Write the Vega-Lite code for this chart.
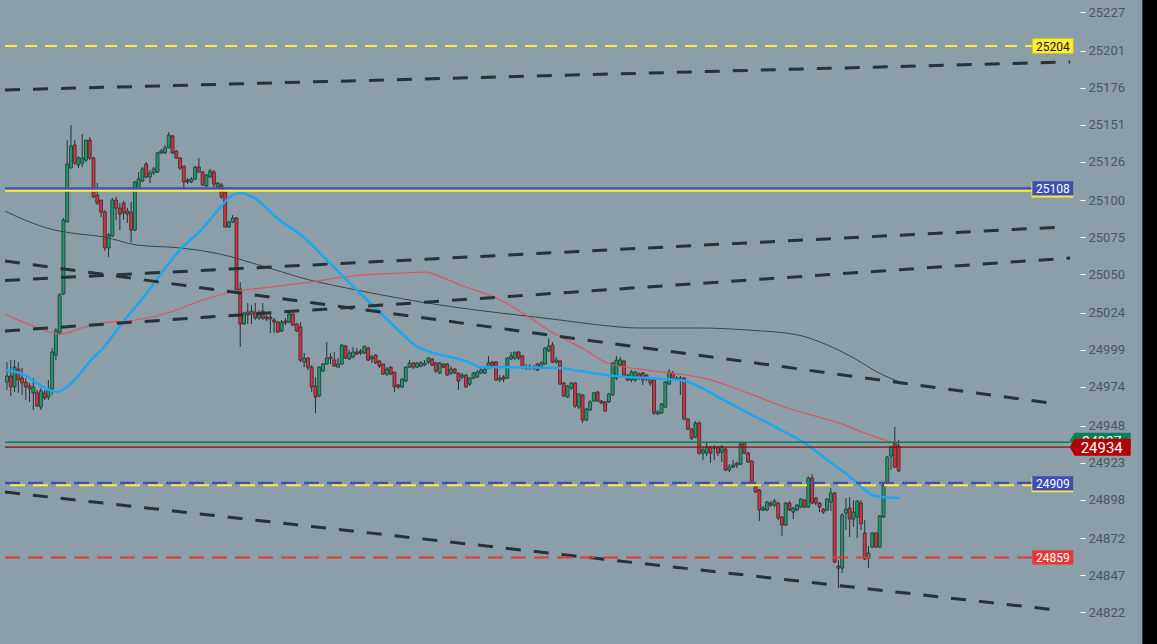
{
"$schema": "https://vega.github.io/schema/vega-lite/v6.json",
"width": 1080, "height": 644,
"autosize": {"type": "none"},
"padding": {"left": 0, "top": 0, "right": 77, "bottom": 0},
"background": "#8c9ea8",
"config": {"view": {"stroke": null}},
"resolve": {"axis": {"x": "independent", "y": "independent"}},
"datasets": {
"candles": [
{"t":0,"o":24977.3,"h":24990.8,"l":24972.0,"c":24981.4},
{"t":1,"o":24981.4,"h":24992.2,"l":24967.9,"c":24974.0},
{"t":2,"o":24974.0,"h":24992.2,"l":24970.6,"c":24987.4},
{"t":3,"o":24986.1,"h":24990.8,"l":24970.0,"c":24978.7},
{"t":4,"o":24980.0,"h":24986.8,"l":24968.6,"c":24976.7},
{"t":5,"o":24977.3,"h":24980.0,"l":24965.2,"c":24974.0},
{"t":6,"o":24974.7,"h":24976.7,"l":24963.9,"c":24972.7},
{"t":7,"o":24970.0,"h":24980.0,"l":24958.5,"c":24974.0},
{"t":8,"o":24970.0,"h":24972.0,"l":24960.5,"c":24961.2},
{"t":9,"o":24960.5,"h":24973.3,"l":24958.5,"c":24971.3},
{"t":10,"o":24970.0,"h":24972.0,"l":24965.2,"c":24966.6},
{"t":11,"o":24967.2,"h":24978.7,"l":24965.2,"c":24972.7},
{"t":12,"o":24972.7,"h":25000.3,"l":24968.6,"c":24997.6},
{"t":13,"o":24995.5,"h":25013.8,"l":24992.2,"c":25012.4},
{"t":14,"o":25010.4,"h":25037.4,"l":25009.1,"c":25036.1},
{"t":15,"o":25036.7,"h":25088.0,"l":25036.1,"c":25086.7},
{"t":16,"o":25085.3,"h":25140.6,"l":25085.3,"c":25124.4},
{"t":17,"o":25121.7,"h":25150.7,"l":25121.7,"c":25136.6},
{"t":18,"o":25137.3,"h":25140.6,"l":25123.8,"c":25125.1},
{"t":19,"o":25123.8,"h":25129.8,"l":25121.7,"c":25128.5},
{"t":20,"o":25125.1,"h":25144.7,"l":25122.4,"c":25128.5},
{"t":21,"o":25127.1,"h":25140.6,"l":25125.8,"c":25140.6},
{"t":22,"o":25140.6,"h":25142.7,"l":25127.1,"c":25128.5},
{"t":23,"o":25128.5,"h":25129.2,"l":25101.5,"c":25102.2},
{"t":24,"o":25103.5,"h":25111.6,"l":25096.8,"c":25098.1},
{"t":25,"o":25100.1,"h":25100.1,"l":25088.7,"c":25092.0},
{"t":26,"o":25092.0,"h":25093.4,"l":25065.7,"c":25067.8},
{"t":27,"o":25067.8,"h":25077.9,"l":25061.7,"c":25076.5},
{"t":28,"o":25075.9,"h":25101.5,"l":25075.2,"c":25100.1},
{"t":29,"o":25100.1,"h":25102.2,"l":25086.7,"c":25094.7},
{"t":30,"o":25094.7,"h":25098.1,"l":25079.9,"c":25090.7},
{"t":31,"o":25098.1,"h":25099.5,"l":25086.7,"c":25091.4},
{"t":32,"o":25092.7,"h":25094.7,"l":25084.6,"c":25090.7},
{"t":33,"o":25092.0,"h":25098.8,"l":25071.8,"c":25079.9},
{"t":34,"o":25079.9,"h":25113.0,"l":25079.2,"c":25112.3},
{"t":35,"o":25108.2,"h":25119.0,"l":25106.9,"c":25114.3},
{"t":36,"o":25113.0,"h":25122.4,"l":25112.3,"c":25121.1},
{"t":37,"o":25124.4,"h":25125.8,"l":25115.0,"c":25115.7},
{"t":38,"o":25115.7,"h":25120.4,"l":25111.6,"c":25118.4},
{"t":39,"o":25118.4,"h":25122.4,"l":25117.0,"c":25121.1},
{"t":40,"o":25119.0,"h":25132.5,"l":25118.4,"c":25131.9},
{"t":41,"o":25131.9,"h":25134.6,"l":25131.2,"c":25133.2},
{"t":42,"o":25131.9,"h":25137.3,"l":25131.2,"c":25135.3},
{"t":43,"o":25135.3,"h":25146.0,"l":25135.3,"c":25144.0},
{"t":44,"o":25143.3,"h":25144.0,"l":25131.2,"c":25131.9},
{"t":45,"o":25133.2,"h":25133.9,"l":25127.8,"c":25128.5},
{"t":46,"o":25128.5,"h":25129.2,"l":25120.4,"c":25121.7},
{"t":47,"o":25123.1,"h":25123.1,"l":25108.2,"c":25112.3},
{"t":48,"o":25113.6,"h":25115.0,"l":25110.9,"c":25112.3},
{"t":49,"o":25112.3,"h":25115.7,"l":25111.6,"c":25114.3},
{"t":50,"o":25114.3,"h":25123.1,"l":25113.6,"c":25122.4},
{"t":51,"o":25122.4,"h":25128.5,"l":25119.0,"c":25119.0},
{"t":52,"o":25119.0,"h":25119.7,"l":25109.6,"c":25110.3},
{"t":53,"o":25109.6,"h":25117.7,"l":25108.9,"c":25117.0},
{"t":54,"o":25115.7,"h":25121.1,"l":25115.0,"c":25119.7},
{"t":55,"o":25119.0,"h":25120.4,"l":25108.9,"c":25110.9},
{"t":56,"o":25108.9,"h":25112.3,"l":25108.2,"c":25111.6},
{"t":57,"o":25110.3,"h":25111.6,"l":25100.8,"c":25102.2},
{"t":58,"o":25105.5,"h":25106.9,"l":25081.9,"c":25081.9},
{"t":59,"o":25081.9,"h":25086.0,"l":25081.3,"c":25085.3},
{"t":60,"o":25085.3,"h":25090.0,"l":25084.6,"c":25088.0},
{"t":61,"o":25088.0,"h":25088.7,"l":25039.4,"c":25039.4},
{"t":62,"o":25040.1,"h":25044.8,"l":25001.0,"c":25016.5},
{"t":63,"o":25016.5,"h":25024.6,"l":25015.8,"c":25023.9},
{"t":64,"o":25024.6,"h":25030.6,"l":25016.5,"c":25022.5},
{"t":65,"o":25023.2,"h":25029.3,"l":25016.5,"c":25025.2},
{"t":66,"o":25024.6,"h":25030.6,"l":25019.2,"c":25020.5},
{"t":67,"o":25020.5,"h":25025.9,"l":25019.2,"c":25023.9},
{"t":68,"o":25025.2,"h":25030.6,"l":25019.2,"c":25020.5},
{"t":69,"o":25021.2,"h":25022.5,"l":25018.5,"c":25019.9},
{"t":70,"o":25021.2,"h":25023.9,"l":25010.4,"c":25019.9},
{"t":71,"o":25019.2,"h":25020.5,"l":25010.4,"c":25017.8},
{"t":72,"o":25017.8,"h":25018.5,"l":25010.4,"c":25011.1},
{"t":73,"o":25011.8,"h":25019.2,"l":25011.1,"c":25017.8},
{"t":74,"o":25018.5,"h":25020.5,"l":25015.8,"c":25017.2},
{"t":75,"o":25017.8,"h":25024.6,"l":25017.2,"c":25023.2},
{"t":76,"o":25023.2,"h":25023.9,"l":25015.1,"c":25015.8},
{"t":77,"o":25016.5,"h":25017.2,"l":25011.1,"c":25011.8},
{"t":78,"o":25014.5,"h":25017.8,"l":24990.8,"c":24992.2},
{"t":79,"o":24990.8,"h":24996.9,"l":24987.4,"c":24993.5},
{"t":80,"o":24993.5,"h":24994.2,"l":24985.4,"c":24987.4},
{"t":81,"o":24987.4,"h":24988.8,"l":24970.6,"c":24974.0},
{"t":82,"o":24974.7,"h":24980.7,"l":24956.4,"c":24967.2},
{"t":83,"o":24967.9,"h":24988.1,"l":24967.2,"c":24987.4},
{"t":84,"o":24984.8,"h":24990.2,"l":24984.1,"c":24989.5},
{"t":85,"o":24989.5,"h":25004.3,"l":24988.8,"c":24993.5},
{"t":86,"o":24994.2,"h":24996.9,"l":24989.5,"c":24992.9},
{"t":87,"o":24992.2,"h":24997.6,"l":24988.1,"c":24988.1},
{"t":88,"o":24987.4,"h":24993.5,"l":24987.4,"c":24989.5},
{"t":89,"o":24989.5,"h":25003.0,"l":24988.8,"c":25002.3},
{"t":90,"o":25001.6,"h":25002.3,"l":24992.9,"c":24993.5},
{"t":91,"o":24992.9,"h":24998.9,"l":24992.2,"c":24996.9},
{"t":92,"o":24994.2,"h":25001.0,"l":24993.5,"c":24997.6},
{"t":93,"o":24997.6,"h":25000.3,"l":24995.5,"c":24996.2},
{"t":94,"o":24998.3,"h":24999.6,"l":24995.5,"c":24996.9},
{"t":95,"o":24996.9,"h":25001.6,"l":24996.2,"c":25001.6},
{"t":96,"o":25000.3,"h":25001.0,"l":24991.5,"c":24992.2},
{"t":97,"o":24992.9,"h":24995.5,"l":24990.2,"c":24994.2},
{"t":98,"o":24995.5,"h":24996.2,"l":24989.5,"c":24990.2},
{"t":99,"o":24991.5,"h":24992.2,"l":24986.8,"c":24988.1},
{"t":100,"o":24989.5,"h":24989.5,"l":24982.0,"c":24982.7},
{"t":101,"o":24982.7,"h":24987.4,"l":24981.4,"c":24986.1},
{"t":102,"o":24987.4,"h":24988.1,"l":24982.0,"c":24982.7},
{"t":103,"o":24984.1,"h":24984.1,"l":24970.6,"c":24974.0},
{"t":104,"o":24975.4,"h":24976.0,"l":24972.7,"c":24974.0},
{"t":105,"o":24974.0,"h":24980.0,"l":24973.3,"c":24979.3},
{"t":106,"o":24978.0,"h":24988.1,"l":24977.3,"c":24987.4},
{"t":107,"o":24987.4,"h":24992.2,"l":24986.8,"c":24990.2},
{"t":108,"o":24990.2,"h":24990.8,"l":24986.1,"c":24987.4},
{"t":109,"o":24987.4,"h":24990.8,"l":24986.8,"c":24990.2},
{"t":110,"o":24988.1,"h":24991.5,"l":24987.4,"c":24990.2},
{"t":111,"o":24988.8,"h":24992.2,"l":24988.1,"c":24990.2},
{"t":112,"o":24990.8,"h":24994.2,"l":24989.5,"c":24993.5},
{"t":113,"o":24992.9,"h":24993.5,"l":24988.1,"c":24988.8},
{"t":114,"o":24990.2,"h":24990.8,"l":24983.4,"c":24984.8},
{"t":115,"o":24983.4,"h":24990.8,"l":24982.7,"c":24990.2},
{"t":116,"o":24989.5,"h":24990.2,"l":24986.8,"c":24987.4},
{"t":117,"o":24989.5,"h":24990.2,"l":24981.4,"c":24982.0},
{"t":118,"o":24983.4,"h":24988.1,"l":24982.0,"c":24986.1},
{"t":119,"o":24986.1,"h":24986.8,"l":24982.7,"c":24983.4},
{"t":120,"o":24983.4,"h":24983.4,"l":24972.0,"c":24978.0},
{"t":121,"o":24980.7,"h":24983.4,"l":24979.3,"c":24982.0},
{"t":122,"o":24982.0,"h":24982.7,"l":24973.3,"c":24974.0},
{"t":123,"o":24976.0,"h":24980.7,"l":24974.7,"c":24980.0},
{"t":124,"o":24980.0,"h":24984.1,"l":24979.3,"c":24983.4},
{"t":125,"o":24980.7,"h":24985.4,"l":24980.0,"c":24984.1},
{"t":126,"o":24983.4,"h":24986.8,"l":24982.7,"c":24985.4},
{"t":127,"o":24983.4,"h":24987.4,"l":24982.7,"c":24986.1},
{"t":128,"o":24986.8,"h":24994.9,"l":24986.8,"c":24990.2},
{"t":129,"o":24990.8,"h":24991.5,"l":24988.1,"c":24988.8},
{"t":130,"o":24990.8,"h":24991.5,"l":24978.0,"c":24978.7},
{"t":131,"o":24978.7,"h":24982.0,"l":24977.3,"c":24980.0},
{"t":132,"o":24980.7,"h":24982.0,"l":24977.3,"c":24979.3},
{"t":133,"o":24980.0,"h":24994.2,"l":24979.3,"c":24993.5},
{"t":134,"o":24992.9,"h":24997.6,"l":24992.2,"c":24994.9},
{"t":135,"o":24993.5,"h":24997.6,"l":24992.2,"c":24997.6},
{"t":136,"o":24997.6,"h":24998.3,"l":24992.2,"c":24993.5},
{"t":137,"o":24994.9,"h":24995.5,"l":24986.1,"c":24986.8},
{"t":138,"o":24987.4,"h":24989.5,"l":24985.4,"c":24986.8},
{"t":139,"o":24986.8,"h":24989.5,"l":24985.4,"c":24987.4},
{"t":140,"o":24987.4,"h":24988.8,"l":24985.4,"c":24986.8},
{"t":141,"o":24989.5,"h":24990.2,"l":24984.8,"c":24985.4},
{"t":142,"o":24986.8,"h":24991.5,"l":24986.1,"c":24990.2},
{"t":143,"o":24989.5,"h":25001.0,"l":24988.8,"c":25000.3},
{"t":144,"o":24998.3,"h":25007.0,"l":24997.6,"c":25001.6},
{"t":145,"o":25002.3,"h":25004.3,"l":24990.2,"c":24990.8},
{"t":146,"o":24990.8,"h":24994.2,"l":24989.5,"c":24992.2},
{"t":147,"o":24991.5,"h":24992.2,"l":24975.4,"c":24976.0},
{"t":148,"o":24976.7,"h":24977.3,"l":24967.2,"c":24967.9},
{"t":149,"o":24967.2,"h":24975.4,"l":24966.6,"c":24974.7},
{"t":150,"o":24973.3,"h":24977.3,"l":24972.0,"c":24976.7},
{"t":151,"o":24976.7,"h":24977.3,"l":24959.8,"c":24961.2},
{"t":152,"o":24960.5,"h":24970.0,"l":24959.1,"c":24969.3},
{"t":153,"o":24968.6,"h":24969.3,"l":24949.7,"c":24951.7},
{"t":154,"o":24951.7,"h":24959.8,"l":24951.0,"c":24959.1},
{"t":155,"o":24958.5,"h":24965.2,"l":24957.8,"c":24963.9},
{"t":156,"o":24964.5,"h":24970.6,"l":24963.9,"c":24970.0},
{"t":157,"o":24970.6,"h":24971.3,"l":24963.9,"c":24964.5},
{"t":158,"o":24964.5,"h":24965.2,"l":24962.5,"c":24963.2},
{"t":159,"o":24963.9,"h":24964.5,"l":24957.1,"c":24957.8},
{"t":160,"o":24963.9,"h":24970.0,"l":24963.2,"c":24969.3},
{"t":161,"o":24968.6,"h":24990.8,"l":24967.9,"c":24990.2},
{"t":162,"o":24980.0,"h":24994.9,"l":24978.7,"c":24992.2},
{"t":163,"o":24988.8,"h":24994.2,"l":24987.4,"c":24992.2},
{"t":164,"o":24991.5,"h":24992.2,"l":24981.4,"c":24982.0},
{"t":165,"o":24982.0,"h":24982.7,"l":24978.0,"c":24978.7},
{"t":166,"o":24978.7,"h":24985.4,"l":24977.3,"c":24984.1},
{"t":167,"o":24978.7,"h":24984.8,"l":24977.3,"c":24984.1},
{"t":168,"o":24982.7,"h":24984.1,"l":24978.7,"c":24980.0},
{"t":169,"o":24983.4,"h":24984.1,"l":24975.4,"c":24978.7},
{"t":170,"o":24979.3,"h":24982.7,"l":24978.0,"c":24982.0},
{"t":171,"o":24980.0,"h":24980.7,"l":24974.7,"c":24976.7},
{"t":172,"o":24978.7,"h":24979.3,"l":24955.1,"c":24956.4},
{"t":173,"o":24955.8,"h":24958.5,"l":24955.1,"c":24957.1},
{"t":174,"o":24956.4,"h":24963.2,"l":24955.8,"c":24962.5},
{"t":175,"o":24960.5,"h":24978.0,"l":24959.8,"c":24977.3},
{"t":176,"o":24976.0,"h":24986.1,"l":24975.4,"c":24984.1},
{"t":177,"o":24983.4,"h":24984.8,"l":24979.3,"c":24980.0},
{"t":178,"o":24980.0,"h":24981.4,"l":24978.0,"c":24978.7},
{"t":179,"o":24980.0,"h":24981.4,"l":24968.6,"c":24978.7},
{"t":180,"o":24980.0,"h":24980.7,"l":24951.7,"c":24952.4},
{"t":181,"o":24952.4,"h":24953.1,"l":24945.0,"c":24945.6},
{"t":182,"o":24945.6,"h":24946.3,"l":24938.2,"c":24939.5},
{"t":183,"o":24940.2,"h":24951.0,"l":24939.5,"c":24949.7},
{"t":184,"o":24949.7,"h":24951.0,"l":24928.1,"c":24929.4},
{"t":185,"o":24929.4,"h":24933.5,"l":24924.7,"c":24931.4},
{"t":186,"o":24929.4,"h":24936.2,"l":24927.4,"c":24933.5},
{"t":187,"o":24933.5,"h":24934.2,"l":24922.7,"c":24929.4},
{"t":188,"o":24932.8,"h":24934.8,"l":24924.7,"c":24933.5},
{"t":189,"o":24933.5,"h":24934.2,"l":24927.4,"c":24929.4},
{"t":190,"o":24930.1,"h":24934.8,"l":24923.4,"c":24933.5},
{"t":191,"o":24932.1,"h":24932.8,"l":24917.3,"c":24918.0},
{"t":192,"o":24918.0,"h":24922.0,"l":24916.6,"c":24920.0},
{"t":193,"o":24920.0,"h":24924.7,"l":24919.3,"c":24921.3},
{"t":194,"o":24922.7,"h":24923.4,"l":24919.3,"c":24921.3},
{"t":195,"o":24922.0,"h":24936.2,"l":24921.3,"c":24935.5},
{"t":196,"o":24936.2,"h":24936.9,"l":24928.7,"c":24929.4},
{"t":197,"o":24929.4,"h":24930.1,"l":24922.7,"c":24923.4},
{"t":198,"o":24924.0,"h":24924.7,"l":24909.2,"c":24909.9},
{"t":199,"o":24907.8,"h":24909.9,"l":24902.5,"c":24903.1},
{"t":200,"o":24904.5,"h":24905.1,"l":24883.6,"c":24891.0},
{"t":201,"o":24891.0,"h":24893.7,"l":24890.3,"c":24892.3},
{"t":202,"o":24891.0,"h":24897.0,"l":24890.3,"c":24896.4},
{"t":203,"o":24895.7,"h":24897.0,"l":24893.0,"c":24894.3},
{"t":204,"o":24894.3,"h":24898.4,"l":24893.0,"c":24897.0},
{"t":205,"o":24895.7,"h":24896.4,"l":24884.2,"c":24885.6},
{"t":206,"o":24886.3,"h":24887.0,"l":24873.4,"c":24880.9},
{"t":207,"o":24880.9,"h":24896.4,"l":24880.2,"c":24895.7},
{"t":208,"o":24895.7,"h":24897.0,"l":24890.3,"c":24891.0},
{"t":209,"o":24889.6,"h":24893.0,"l":24884.9,"c":24892.3},
{"t":210,"o":24891.0,"h":24895.0,"l":24890.3,"c":24894.3},
{"t":211,"o":24893.0,"h":24899.1,"l":24892.3,"c":24898.4},
{"t":212,"o":24897.7,"h":24898.4,"l":24892.3,"c":24893.0},
{"t":213,"o":24893.0,"h":24913.9,"l":24892.3,"c":24912.6},
{"t":214,"o":24912.6,"h":24915.3,"l":24895.0,"c":24895.7},
{"t":215,"o":24899.1,"h":24899.8,"l":24894.3,"c":24895.7},
{"t":216,"o":24895.7,"h":24896.4,"l":24889.6,"c":24893.0},
{"t":217,"o":24891.6,"h":24892.3,"l":24888.3,"c":24889.6},
{"t":218,"o":24891.0,"h":24899.1,"l":24890.3,"c":24898.4},
{"t":219,"o":24896.4,"h":24905.8,"l":24890.3,"c":24902.5},
{"t":220,"o":24902.5,"h":24903.1,"l":24855.2,"c":24855.9},
{"t":221,"o":24853.2,"h":24857.2,"l":24838.3,"c":24851.8},
{"t":222,"o":24851.8,"h":24888.9,"l":24848.5,"c":24887.6},
{"t":223,"o":24888.9,"h":24899.1,"l":24877.5,"c":24891.6},
{"t":224,"o":24892.3,"h":24899.8,"l":24872.7,"c":24884.9},
{"t":225,"o":24884.9,"h":24897.7,"l":24879.5,"c":24889.6},
{"t":226,"o":24886.3,"h":24897.7,"l":24872.1,"c":24897.0},
{"t":227,"o":24895.7,"h":24897.7,"l":24877.5,"c":24881.6},
{"t":228,"o":24875.5,"h":24884.2,"l":24857.2,"c":24857.9},
{"t":229,"o":24858.6,"h":24866.7,"l":24851.8,"c":24862.0},
{"t":230,"o":24866.0,"h":24876.1,"l":24865.4,"c":24875.5},
{"t":231,"o":24875.5,"h":24876.1,"l":24865.4,"c":24866.0},
{"t":232,"o":24866.0,"h":24887.6,"l":24865.4,"c":24887.0},
{"t":233,"o":24886.3,"h":24908.5,"l":24885.6,"c":24907.8},
{"t":234,"o":24909.9,"h":24927.4,"l":24909.2,"c":24926.7},
{"t":235,"o":24927.4,"h":24934.2,"l":24918.0,"c":24933.5},
{"t":236,"o":24936.2,"h":24947.0,"l":24919.3,"c":24920.0},
{"t":237,"o":24934.2,"h":24938.2,"l":24916.6,"c":24917.3}
],
"blueMA": [
{"t":-0.5,"p":24985.4},{"t":4.7,"p":24982.0},{"t":8.7,"p":24975.4},{"t":13.4,"p":24970.6},{"t":17.1,"p":24976.7},
{"t":22.4,"p":24992.2},{"t":25.8,"p":25001.0},{"t":30.6,"p":25017.2},{"t":36.3,"p":25034.7},{"t":41.1,"p":25050.9},
{"t":46.4,"p":25067.8},{"t":51.6,"p":25079.9},{"t":56.1,"p":25093.4},{"t":59.3,"p":25102.2},{"t":62.2,"p":25104.9},
{"t":65.8,"p":25101.5},{"t":72.4,"p":25086.7},{"t":78.5,"p":25075.9},{"t":83.7,"p":25063.0},{"t":89.0,"p":25049.5},
{"t":93.5,"p":25038.1},{"t":99.6,"p":25023.2},{"t":104.8,"p":25010.4},{"t":108.8,"p":25001.6},{"t":112.7,"p":24997.6},
{"t":123.8,"p":24989.5},{"t":125.4,"p":24987.4},{"t":129.8,"p":24987.4},{"t":146.4,"p":24986.8},{"t":152.2,"p":24984.8},
{"t":161.4,"p":24981.4},{"t":170.1,"p":24980.0},{"t":179.1,"p":24978.7},{"t":185.1,"p":24972.7},{"t":189.1,"p":24967.2},
{"t":197.0,"p":24956.4},{"t":202.3,"p":24949.7},{"t":205.7,"p":24945.0},{"t":212.0,"p":24936.2},{"t":218.1,"p":24924.7},
{"t":222.8,"p":24915.9},{"t":227.3,"p":24906.5},{"t":229.9,"p":24901.1},{"t":232.6,"p":24899.8},{"t":237.3,"p":24899.1}
],
"redMA": [
{"t":-0.5,"p":25023.2},{"t":7.4,"p":25014.5},{"t":14.5,"p":25009.7},{"t":19.8,"p":25013.8},{"t":25.8,"p":25017.2},
{"t":34.5,"p":25019.2},{"t":43.5,"p":25024.6},{"t":52.1,"p":25032.7},{"t":60.0,"p":25038.1},{"t":69.8,"p":25041.4},
{"t":78.5,"p":25044.1},{"t":91.7,"p":25048.9},{"t":104.8,"p":25050.9},{"t":111.4,"p":25051.6},{"t":114.0,"p":25049.5},
{"t":120.6,"p":25042.8},{"t":131.2,"p":25032.7},{"t":139.1,"p":25020.5},{"t":145.7,"p":25009.7},{"t":152.8,"p":25000.3},
{"t":159.6,"p":24990.2},{"t":170.1,"p":24985.4},{"t":180.7,"p":24982.0},{"t":185.1,"p":24980.0},{"t":197.0,"p":24969.9},
{"t":207.5,"p":24959.8},{"t":218.6,"p":24951.7},{"t":222.8,"p":24948.3},{"t":227.3,"p":24943.6},{"t":231.8,"p":24939.5},
{"t":235.2,"p":24936.9},{"t":237.3,"p":24936.2}
],
"grayMA": [
{"t":-0.5,"p":25092.7},{"t":4.7,"p":25086.7},{"t":12.6,"p":25079.9},{"t":17.1,"p":25077.9},{"t":25.8,"p":25075.2},
{"t":34.5,"p":25069.8},{"t":46.1,"p":25067.8},{"t":56.6,"p":25063.7},{"t":65.3,"p":25057.6},{"t":74.0,"p":25050.9},
{"t":78.5,"p":25047.5},{"t":89.0,"p":25041.4},{"t":99.6,"p":25036.1},{"t":110.1,"p":25031.3},{"t":120.6,"p":25027.3},
{"t":131.2,"p":25023.9},{"t":147.0,"p":25019.2},{"t":157.5,"p":25015.8},{"t":168.0,"p":25013.8},{"t":183.8,"p":25013.8},
{"t":197.0,"p":25012.4},{"t":210.2,"p":25009.1},{"t":218.1,"p":25002.3},{"t":226.0,"p":24992.2},{"t":231.3,"p":24984.1},
{"t":237.3,"p":24977.3}
],
"trend": [
{"id":"E","t":-0.53,"p":25174.4},{"id":"E","t":282.6,"p":25193.3},
{"id":"A","t":-0.53,"p":25045.9},{"id":"A","t":280.2,"p":25081.9},
{"id":"B","t":-0.53,"p":25011.8},{"id":"B","t":282.6,"p":25061.0},
{"id":"C","t":-0.53,"p":25059.0},{"id":"C","t":279.2,"p":24962.5},
{"id":"D","t":-0.53,"p":24903.1},{"id":"D","t":279.2,"p":24823.5}
]
},
"layer": [
{"data": {"name": "candles"},
 "mark": {"type": "rule", "color": "#263238", "strokeWidth": 1},
 "encoding": {
  "x": {"field": "t", "type": "quantitative", "scale": {"domain": [-0.53, 283.9], "nice": false, "zero": false}, "axis": null},
  "y": {"field": "l", "type": "quantitative", "scale": {"domain": [24800.6, 25235.1], "nice": false, "zero": false},
   "axis": {"orient": "right", "title": null,
    "values": [25227, 25201, 25176, 25151, 25126, 25100, 25075, 25050, 25024, 24999, 24974, 24948, 24923, 24898, 24872, 24847, 24822, 24796],
    "format": "d", "domain": false, "grid": false, "ticks": true, "tickColor": "#ffffff", "tickSize": 5, "tickWidth": 1,
    "labelPadding": 3, "labelColor": "#4a5661", "labelFont": "Roboto", "labelFontSize": 13, "labelOverlap": false}},
  "y2": {"field": "h"}
 }},
{"data": {"name": "candles"},
 "mark": {"type": "bar", "size": 3, "stroke": "#1c272d", "strokeWidth": 0.7},
 "encoding": {
  "x": {"field": "t", "type": "quantitative", "axis": null},
  "y": {"field": "o", "type": "quantitative", "axis": null},
  "y2": {"field": "c"},
  "fill": {"condition": {"test": "datum.c >= datum.o", "value": "#1f9a67"}, "value": "#d6313b"}
 }},
{"data": {"name": "grayMA"},
 "mark": {"type": "line", "color": "#37474f", "strokeWidth": 1, "interpolate": "monotone"},
 "encoding": {"x": {"field": "t", "type": "quantitative", "axis": null}, "y": {"field": "p", "type": "quantitative", "axis": null}}},
{"data": {"name": "redMA"},
 "mark": {"type": "line", "color": "#e0535a", "strokeWidth": 1.2, "interpolate": "monotone"},
 "encoding": {"x": {"field": "t", "type": "quantitative", "axis": null}, "y": {"field": "p", "type": "quantitative", "axis": null}}},
{"data": {"name": "blueMA"},
 "mark": {"type": "line", "color": "#1fa6f2", "strokeWidth": 2.5, "interpolate": "monotone"},
 "encoding": {"x": {"field": "t", "type": "quantitative", "axis": null}, "y": {"field": "p", "type": "quantitative", "axis": null}}},
{"data": {"name": "trend"},
 "mark": {"type": "line", "color": "#263238", "strokeWidth": 3, "strokeDash": [15, 13]},
 "encoding": {"x": {"field": "t", "type": "quantitative", "axis": null}, "y": {"field": "p", "type": "quantitative", "axis": null}, "detail": {"field": "id"}}},
{"data": {"values": [{"p": 25204}]},
 "mark": {"type": "rule", "color": "#ffeb3b", "strokeWidth": 2, "strokeDash": [12, 8]},
 "encoding": {"x": {"datum": -0.53, "axis": null}, "x2": {"datum": 272.6}, "y": {"field": "p", "type": "quantitative", "axis": null}}},
{"data": {"values": [{"p": 25108}]},
 "mark": {"type": "rule", "color": "#3f51b5", "strokeWidth": 2.5},
 "encoding": {"x": {"datum": -0.53, "axis": null}, "x2": {"datum": 272.6}, "y": {"field": "p", "type": "quantitative", "axis": null}}},
{"data": {"values": [{"p": 25106.4}]},
 "mark": {"type": "rule", "color": "#ffeb3b", "strokeWidth": 2},
 "encoding": {"x": {"datum": -0.53, "axis": null}, "x2": {"datum": 272.6}, "y": {"field": "p", "type": "quantitative", "axis": null}}},
{"data": {"values": [{"p": 24909.2}]},
 "mark": {"type": "rule", "color": "#3f51b5", "strokeWidth": 2.5, "strokeDash": [15, 8]},
 "encoding": {"x": {"datum": -0.53, "axis": null}, "x2": {"datum": 272.6}, "y": {"field": "p", "type": "quantitative", "axis": null}}},
{"data": {"values": [{"p": 24907.7}]},
 "mark": {"type": "rule", "color": "#ffeb3b", "strokeWidth": 2, "strokeDash": [15, 8], "strokeDashOffset": -5},
 "encoding": {"x": {"datum": -0.53, "axis": null}, "x2": {"datum": 272.6}, "y": {"field": "p", "type": "quantitative", "axis": null}}},
{"data": {"values": [{"p": 24859}]},
 "mark": {"type": "rule", "color": "#e53935", "strokeWidth": 2, "strokeDash": [15, 8]},
 "encoding": {"x": {"datum": -0.53, "axis": null}, "x2": {"datum": 272.6}, "y": {"field": "p", "type": "quantitative", "axis": null}}},
{"data": {"values": [{"p": 24936.8}]},
 "mark": {"type": "rule", "color": "#0b7d58", "strokeWidth": 1.5},
 "encoding": {"x": {"datum": -0.53, "axis": null}, "x2": {"datum": 282.6}, "y": {"field": "p", "type": "quantitative", "axis": null}}},
{"data": {"values": [{"p": 24933.4}]},
 "mark": {"type": "rule", "color": "#8e0b0b", "strokeWidth": 1.2},
 "encoding": {"x": {"datum": -0.53, "axis": null}, "x2": {"datum": 282.6}, "y": {"field": "p", "type": "quantitative", "axis": null}}},
{"data": {"values": [{"p": 25204}]},
 "mark": {"type": "point", "shape": "M-1,-0.366L1,-0.366L1,0.366L-1,0.366Z", "size": 1681, "filled": true, "fill": "#ffeb3b", "stroke": "#d9bd00", "strokeWidth": 0.8, "opacity": 1},
 "encoding": {"x": {"datum": 278.0, "axis": null}, "y": {"field": "p", "type": "quantitative", "axis": null}}},
{"data": {"values": [{"p": 25108}, {"p": 24909}]},
 "mark": {"type": "point", "shape": "M-1.04,-0.3L1,-0.3L1,0.44L-1.04,0.44Z", "size": 1681, "filled": true, "fill": "#ffeb3b", "strokeWidth": 0, "opacity": 1},
 "encoding": {"x": {"datum": 278.0, "axis": null}, "y": {"field": "p", "type": "quantitative", "axis": null}}},
{"data": {"values": [{"p": 25108}, {"p": 24909}]},
 "mark": {"type": "point", "shape": "M-1,-0.35L1,-0.35L1,0.35L-1,0.35Z", "size": 1681, "filled": true, "fill": "#3d4db7", "strokeWidth": 0, "opacity": 1},
 "encoding": {"x": {"datum": 278.0, "axis": null}, "y": {"field": "p", "type": "quantitative", "axis": null}}},
{"data": {"values": [{"p": 24859}]},
 "mark": {"type": "point", "shape": "M-1,-0.35L1,-0.35L1,0.35L-1,0.35Z", "size": 1681, "filled": true, "fill": "#e53935", "strokeWidth": 0, "opacity": 1},
 "encoding": {"x": {"datum": 278.0, "axis": null}, "y": {"field": "p", "type": "quantitative", "axis": null}}},
{"data": {"values": [{"p": 25204, "label": "25204"}]},
 "mark": {"type": "text", "font": "Roboto", "fontSize": 12, "color": "#1a1a1a", "align": "center", "baseline": "middle", "dy": 0.5},
 "encoding": {"x": {"datum": 278.0, "axis": null}, "y": {"field": "p", "type": "quantitative", "axis": null}, "text": {"field": "label"}}},
{"data": {"values": [{"p": 25108, "label": "25108"}, {"p": 24909, "label": "24909"}, {"p": 24859, "label": "24859"}]},
 "mark": {"type": "text", "font": "Roboto", "fontSize": 12, "color": "#ffffff", "align": "center", "baseline": "middle", "dy": 0.5},
 "encoding": {"x": {"datum": 278.0, "axis": null}, "y": {"field": "p", "type": "quantitative", "axis": null}, "text": {"field": "label"}}},
{"data": {"values": [{"p": 24937.8}]},
 "mark": {"type": "point", "shape": "M-1,0L-0.836,-0.262L1,-0.262L1,0.262L-0.836,0.262Z", "size": 3721, "filled": true, "fill": "#0b7d58", "strokeWidth": 0, "opacity": 1},
 "encoding": {"x": {"datum": 290.6, "axis": null}, "y": {"field": "p", "type": "quantitative", "axis": null}}},
{"data": {"values": [{"p": 24936.3, "label": "24937"}]},
 "mark": {"type": "text", "font": "Roboto", "fontSize": 14, "color": "#ffffff", "align": "center", "baseline": "middle"},
 "encoding": {"x": {"datum": 291.0, "axis": null}, "y": {"field": "p", "type": "quantitative", "axis": null}, "text": {"field": "label"}}},
{"data": {"values": [{"p": 24933.4}]},
 "mark": {"type": "point", "shape": "M-1,0L-0.836,-0.279L1,-0.279L1,0.279L-0.836,0.279Z", "size": 3721, "filled": true, "fill": "#b00000", "strokeWidth": 0, "opacity": 1},
 "encoding": {"x": {"datum": 290.6, "axis": null}, "y": {"field": "p", "type": "quantitative", "axis": null}}},
{"data": {"values": [{"p": 24933.4, "label": "24934"}]},
 "mark": {"type": "text", "font": "Roboto", "fontSize": 15, "color": "#ffffff", "align": "center", "baseline": "middle", "dy": 0.5},
 "encoding": {"x": {"datum": 291.0, "axis": null}, "y": {"field": "p", "type": "quantitative", "axis": null}, "text": {"field": "label"}}},
{"data": {"values": [{"edge": "right"}]},
 "mark": {"type": "rect", "color": "#000000"},
 "encoding": {"x": {"datum": 301.8, "axis": null}, "x2": {"datum": 306.0}, "y": {"datum": 25300, "axis": null}, "y2": {"datum": 24700}}}
]
}
